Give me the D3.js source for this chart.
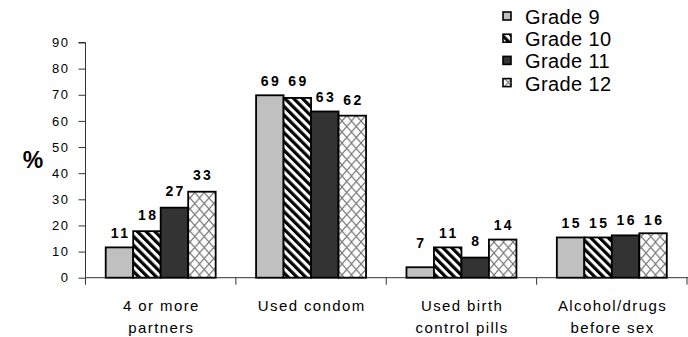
<!DOCTYPE html>
<html>
<head>
<meta charset="utf-8">
<script src="https://cdn.jsdelivr.net/npm/d3@7"></script>
<style>
  html, body { margin: 0; padding: 0; background: #fff; }
  svg { display: block; }
  text { font-family: "Liberation Sans", Arial, sans-serif; fill: #000; }
</style>
</head>
<body>
<script>
// ---- data ----
const categories = ["4 or more\npartners", "Used condom", "Used birth\ncontrol pills", "Alcohol/drugs\nbefore sex"];
const seriesNames = ["Grade 9", "Grade 10", "Grade 11", "Grade 12"];
const grade9  = [11.6, 69.8, 4.0, 15.4];
const grade10 = [17.8, 68.8, 11.6, 15.4];
const grade11 = [26.8, 63.6, 7.7, 16.2];
const grade12 = [32.9, 62.0, 14.6, 17.0];
const labels9  = ["11", "69", "7", "15"];
const labels10 = ["18", "69", "11", "15"];
const labels11 = ["27", "63", "8", "16"];
const labels12 = ["33", "62", "14", "16"];
const yTicks = [0, 10, 20, 30, 40, 50, 60, 70, 80, 90];

const seriesValues = [grade9, grade10, grade11, grade12];
const seriesLabels = [labels9, labels10, labels11, labels12];

// ---- layout ----
const W = 688, H = 337;
const svg = d3.select("body").append("svg").attr("width", W).attr("height", H);

const defs = svg.append("defs");
const stripes = defs.append("pattern").attr("id", "stripes")
  .attr("patternUnits", "userSpaceOnUse").attr("width", 6.2).attr("height", 6.2)
  .attr("patternTransform", "rotate(-45)");
stripes.append("rect").attr("width", 6.2).attr("height", 6.2).attr("fill", "#fff");
stripes.append("rect").attr("width", 3.2).attr("height", 6.2).attr("fill", "#000");

const hatch = defs.append("pattern").attr("id", "hatch")
  .attr("patternUnits", "userSpaceOnUse").attr("width", 9.5).attr("height", 11);
hatch.append("rect").attr("width", 9.5).attr("height", 11).attr("fill", "#fff");
hatch.append("path").attr("d", "M0,0L9.5,11M9.5,0L0,11M-1,10L0,11M9.5,0L10.5,-1")
  .attr("stroke", "#7c7c7c").attr("stroke-width", 1.2).attr("fill", "none");

const fills = ["#c0c0c0", "url(#stripes)", "#333333", "url(#hatch)"];

const x0 = d3.scaleBand().domain(categories).range([85.5, 687]).padding(0);
const x1 = d3.scaleBand().domain(seriesNames).range([0, x0.bandwidth()])
  .paddingInner(0).paddingOuter(0.735);
const y = d3.scaleLinear().domain([0, 90]).range([277.7, 42.5]);

// y axis
const yAxis = svg.append("g").attr("transform", "translate(85.5,0)")
  .call(d3.axisLeft(y).tickValues(yTicks).tickSize(7).tickPadding(9));
yAxis.select(".domain").attr("stroke", "#333").attr("d", `M-7,${y(90)}H0V${y(0)}`);
yAxis.selectAll(".tick line").attr("stroke", "#333");
yAxis.selectAll(".tick text").style("font-size", "13px").style("letter-spacing", "1.5px")
  .style("font-family", "Liberation Sans, Arial, sans-serif").attr("fill", "#000");

// x axis
const xAxis = svg.append("g").attr("transform", `translate(0,${y(0)})`);
xAxis.append("line").attr("x1", 85.5).attr("x2", W).attr("y1", 0).attr("y2", 0).attr("stroke", "#333");
const bounds = categories.map(c => x0(c)).concat([x0(categories[categories.length - 1]) + x0.bandwidth()]);
xAxis.selectAll("line.ct").data(bounds).enter().append("line").attr("class", "ct")
  .attr("x1", d => d).attr("x2", d => d).attr("y1", 0).attr("y2", 7).attr("stroke", "#333");

// category labels
categories.forEach(c => {
  const lines = c.split("\n");
  const t = svg.append("text").attr("text-anchor", "middle")
    .style("font-size", "15px").style("letter-spacing", "1.4px");
  lines.forEach((ln, i) => {
    t.append("tspan").attr("x", x0(c) + x0.bandwidth() / 2 + 0.7).attr("y", 310.7 + i * 22).text(ln);
  });
});

// bars
seriesNames.forEach((s, si) => {
  const g = svg.append("g");
  g.selectAll("rect").data(categories).enter().append("rect")
    .attr("x", c => x0(c) + x1(s))
    .attr("y", (c, i) => y(seriesValues[si][i]))
    .attr("width", x1.bandwidth())
    .attr("height", (c, i) => y(0) - y(seriesValues[si][i]))
    .attr("fill", fills[si]).attr("stroke", "#000").attr("stroke-width", 1.8);
  g.selectAll("text").data(categories).enter().append("text")
    .attr("x", c => x0(c) + x1(s) + x1.bandwidth() / 2 + 1.2)
    .attr("y", (c, i) => y(+seriesLabels[si][i]) - 11)
    .attr("text-anchor", "middle")
    .style("font-size", "14px").style("font-weight", "bold").style("letter-spacing", "2.4px")
    .text((c, i) => seriesLabels[si][i]);
});

// % label
svg.append("text").attr("x", 33).attr("y", 168).attr("text-anchor", "middle")
  .style("font-size", "23px").style("font-weight", "bold").text("%");

// legend
const leg = svg.append("g");
seriesNames.forEach((s, i) => {
  const by = 24 + i * 22.2;
  leg.append("rect").attr("x", 503).attr("y", by - 12).attr("width", 8).attr("height", 8)
    .attr("fill", fills[i]).attr("stroke", "#000").attr("stroke-width", 1.6);
  leg.append("text").attr("x", 525).attr("y", by)
    .style("font-size", "20px").style("letter-spacing", "0.4px").text(s);
});
</script>
</body>
</html>
